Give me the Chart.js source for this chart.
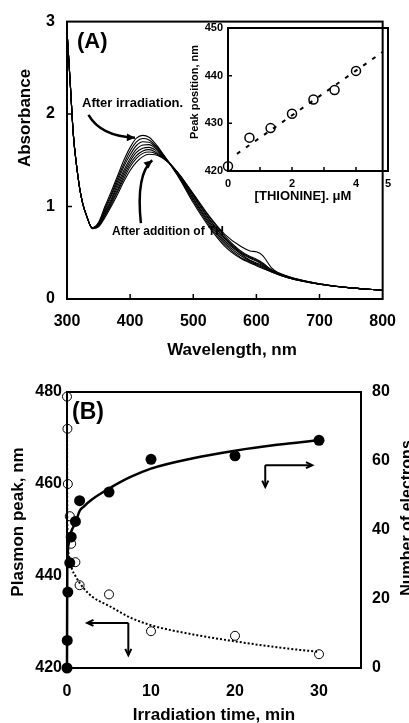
<!DOCTYPE html>
<html>
<head>
<meta charset="utf-8">
<script src="https://cdn.jsdelivr.net/npm/chart.js@4.4.1/dist/chart.umd.min.js"></script>
<style>
  body { margin: 0; background: #fff; }
  #wrap { position: relative; width: 409px; height: 723px; overflow: hidden; }
  canvas { position: absolute; }
</style>
</head>
<body>
<div id="wrap">
  <canvas id="specChart" width="409" height="365" style="left:0;top:0"></canvas>
  <canvas id="insetChart" width="229" height="195" style="left:180px;top:15px"></canvas>
  <canvas id="timeChart" width="409" height="358" style="left:0;top:365px"></canvas>
</div>
<script>
// ---- panel A: absorbance spectra ----
const wavelengths = [300,305,310,315,320,325,330,340,350,360,370,380,390,400,410,420,430,440,450,460,470,480,500,525,550,575,590,600,610,625,650,700,750,800];
const scan1 = [2.90,2.35,1.78,1.45,1.20,1.03,0.92,0.77,0.83,1.00,1.16,1.33,1.50,1.64,1.74,1.77,1.75,1.68,1.59,1.49,1.39,1.28,1.04,0.78,0.57,0.44,0.39,0.36,0.33,0.29,0.23,0.16,0.12,0.095];
const scan2 = [2.90,2.35,1.78,1.45,1.20,1.03,0.92,0.77,0.82,0.98,1.13,1.30,1.46,1.60,1.70,1.735,1.72,1.66,1.58,1.49,1.39,1.29,1.06,0.80,0.59,0.45,0.40,0.37,0.34,0.29,0.23,0.16,0.12,0.095];
const scan3 = [2.90,2.35,1.78,1.45,1.20,1.03,0.92,0.77,0.81,0.96,1.11,1.27,1.43,1.56,1.66,1.70,1.695,1.645,1.57,1.49,1.40,1.30,1.08,0.82,0.61,0.47,0.41,0.38,0.35,0.30,0.23,0.16,0.12,0.095];
const scan4 = [2.90,2.35,1.78,1.45,1.20,1.03,0.92,0.77,0.81,0.94,1.08,1.24,1.39,1.52,1.62,1.665,1.67,1.63,1.56,1.49,1.40,1.31,1.09,0.84,0.63,0.49,0.42,0.39,0.36,0.30,0.235,0.16,0.12,0.095];
const scan5 = [2.90,2.35,1.78,1.45,1.20,1.03,0.92,0.77,0.80,0.93,1.06,1.21,1.36,1.49,1.585,1.63,1.64,1.61,1.55,1.49,1.41,1.32,1.11,0.86,0.65,0.50,0.44,0.41,0.37,0.30,0.235,0.16,0.12,0.095];
const scan6 = [2.90,2.35,1.78,1.45,1.20,1.03,0.92,0.77,0.79,0.91,1.04,1.18,1.33,1.46,1.55,1.60,1.615,1.59,1.54,1.48,1.41,1.32,1.12,0.87,0.66,0.51,0.45,0.42,0.38,0.31,0.24,0.165,0.12,0.095];
const scan7 = [2.90,2.35,1.78,1.45,1.20,1.03,0.92,0.77,0.79,0.90,1.02,1.16,1.30,1.43,1.52,1.575,1.59,1.575,1.535,1.48,1.41,1.33,1.13,0.89,0.68,0.52,0.46,0.43,0.39,0.31,0.24,0.165,0.12,0.095];
const scan8 = [2.90,2.35,1.78,1.45,1.20,1.03,0.92,0.76,0.78,0.88,1.00,1.13,1.27,1.39,1.48,1.54,1.565,1.56,1.53,1.48,1.41,1.33,1.14,0.90,0.70,0.57,0.52,0.51,0.47,0.33,0.245,0.165,0.12,0.095];
const scans = [scan1, scan2, scan3, scan4, scan5, scan6, scan7, scan8];

// ---- inset: peak position vs thionine ----
const thionineConc = [0, 0.67, 1.33, 2, 2.67, 3.33, 4];
const peakPosition = [421, 427, 429, 432, 435, 437, 441];
const thionineFitX = [0.28, 4.84];
const thionineFitY = [423.6, 445];

// ---- panel B: irradiation time ----
const timeOpen = [0, 0.05, 0.1, 0.33, 0.5, 1, 1.5, 5, 10, 20, 30];
const plasmonPeak = [479, 472, 460, 453, 447, 443, 438, 436, 428, 427, 423];
const timeFilled = [0, 0.03, 0.1, 0.33, 0.5, 1, 1.5, 5, 10, 20, 30];
const electrons = [0, 8, 22, 30.5, 38, 42.5, 48.5, 51, 60.5, 61.5, 66];
const fitTimeP = [0, 0.03, 0.3, 0.6, 1, 1.5, 2, 3, 5, 7.5, 10, 15, 20, 25, 30];
const fitPlasmon = [480, 452, 444, 441.5, 440, 438.5, 437.3, 435.5, 433.5, 431, 429.3, 427.3, 425.8, 424.5, 423.5];
const fitTimeE = [0, 0.03, 0.2, 0.5, 1, 1.5, 2, 3, 5, 7.5, 10, 15, 20, 25, 30];
const fitElectrons = [0, 28, 36, 39.5, 42, 45.5, 46.8, 48.9, 52, 55.3, 57.8, 60.8, 63, 64.7, 66];

const FAM = '"Liberation Sans", Arial, sans-serif';
Chart.defaults.font.family = FAM;
Chart.defaults.color = '#000';

const pts = (xs, ys) => xs.map((x, i) => ({ x: x, y: ys[i] }));

function arrowHead(ctx, from, to, size, filled) {
  const ang = Math.atan2(to[1] - from[1], to[0] - from[0]);
  const p1 = [to[0] - size * Math.cos(ang - 0.45), to[1] - size * Math.sin(ang - 0.45)];
  const p2 = [to[0] - size * Math.cos(ang + 0.45), to[1] - size * Math.sin(ang + 0.45)];
  ctx.beginPath();
  ctx.moveTo(p1[0], p1[1]);
  ctx.lineTo(to[0], to[1]);
  ctx.lineTo(p2[0], p2[1]);
  if (filled) { ctx.closePath(); ctx.fill(); } else { ctx.stroke(); }
}

// frame, inward ticks, arrows and free text
const decorPlugin = {
  id: 'decor',
  afterDatasetsDraw(chart, args, opts) {
    const ctx = chart.ctx, a = chart.chartArea;
    ctx.save();
    ctx.strokeStyle = '#000';
    ctx.fillStyle = '#000';
    ctx.lineWidth = opts.frameWidth || 2;
    ctx.strokeRect(a.left, a.top, a.right - a.left, a.bottom - a.top);

    if (opts.tickLen) {
      const sx = chart.scales.x, sy = chart.scales.y;
      ctx.lineWidth = 1.5;
      ctx.beginPath();
      sx.ticks.forEach(t => {
        if (t.value <= sx.min || t.value >= sx.max) return;
        const px = sx.getPixelForValue(t.value);
        ctx.moveTo(px, a.bottom); ctx.lineTo(px, a.bottom - opts.tickLen);
      });
      sy.ticks.forEach(t => {
        if (t.value <= sy.min || t.value >= sy.max) return;
        const py = sy.getPixelForValue(t.value);
        ctx.moveTo(a.left, py); ctx.lineTo(a.left + opts.tickLen, py);
      });
      ctx.stroke();
    }

    (opts.arrows || []).forEach(ar => {
      const ys = chart.scales[ar.yAxis || 'y'];
      const P = p => [chart.scales.x.getPixelForValue(p[0]), ys.getPixelForValue(p[1])];
      ctx.lineWidth = ar.width || 2;
      if (ar.ctrl) {
        const s = P(ar.from), c = P(ar.ctrl), e = P(ar.to);
        ctx.beginPath();
        ctx.moveTo(s[0], s[1]);
        ctx.quadraticCurveTo(c[0], c[1], e[0], e[1]);
        ctx.stroke();
        arrowHead(ctx, c, e, 9, true);
      } else {
        const c = P(ar.corner);
        ar.ends.forEach(pt => {
          const e = P(pt);
          ctx.beginPath(); ctx.moveTo(c[0], c[1]); ctx.lineTo(e[0], e[1]); ctx.stroke();
          arrowHead(ctx, c, e, 7, false);
        });
      }
    });

    (opts.texts || []).forEach(t => {
      ctx.save();
      ctx.font = t.font;
      ctx.textAlign = t.align || 'center';
      ctx.textBaseline = t.baseline || 'middle';
      ctx.translate(t.x, t.y);
      if (t.rotate) ctx.rotate(-Math.PI / 2);
      ctx.fillText(t.text, 0, 0);
      ctx.restore();
    });
    ctx.restore();
  }
};

const noGrid = { display: false, drawTicks: false };
const noBorder = { display: false };
const bold = size => ({ size: size, weight: 'bold', family: FAM });

// panel A
new Chart(document.getElementById('specChart'), {
  type: 'line',
  data: {
    datasets: scans.map(s => ({
      data: pts(wavelengths, s),
      borderColor: '#000',
      borderWidth: 1.1,
      pointRadius: 0,
      cubicInterpolationMode: 'monotone'
    }))
  },
  options: {
    responsive: false,
    animation: false,
    layout: { padding: { top: 17, right: 17, left: 0, bottom: 0 } },
    plugins: {
      legend: { display: false },
      tooltip: { enabled: false },
      decor: {
        frameWidth: 2,
        tickLen: 5,
        arrows: [
          { from: [334, 1.99], ctrl: [354, 1.755], to: [407.7, 1.745], width: 2.5 },
          { from: [417, 0.82], ctrl: [409, 1.35], to: [435, 1.5], width: 2.5 }
        ],
        texts: [
          { text: '(A)', x: 77, y: 42, align: 'left', font: 'bold 22px ' + FAM },
          { text: 'Absorbance', x: 25, y: 118, rotate: true, font: 'bold 17px ' + FAM },
          { text: 'Wavelength, nm', x: 232, y: 350, font: 'bold 17px ' + FAM },
          { text: 'After irradiation.', x: 82, y: 103, align: 'left', font: 'bold 13px ' + FAM },
          { text: 'After addition of TH', x: 112, y: 232, align: 'left', font: 'bold 12px ' + FAM }
        ]
      }
    },
    scales: {
      x: {
        type: 'linear', min: 300, max: 800,
        ticks: { stepSize: 100, padding: 13, font: bold(16) },
        grid: noGrid, border: noBorder,
        afterFit: s => { s.height = 66; }
      },
      y: {
        min: 0, max: 3,
        ticks: { stepSize: 1, padding: 12, font: bold(16) },
        grid: noGrid, border: noBorder,
        afterFit: s => { s.width = 67; }
      }
    }
  },
  plugins: [decorPlugin]
});

// inset
new Chart(document.getElementById('insetChart'), {
  type: 'line',
  data: {
    datasets: [
      {
        data: pts(thionineConc, peakPosition),
        showLine: false,
        pointRadius: 4.5,
        pointBorderWidth: 1.5,
        pointBorderColor: '#000',
        pointBackgroundColor: 'rgba(0,0,0,0)',
        clip: false
      },
      {
        data: pts(thionineFitX, thionineFitY),
        borderColor: '#000',
        borderWidth: 2,
        borderDash: [4, 7],
        pointRadius: 0
      }
    ]
  },
  options: {
    responsive: false,
    animation: false,
    layout: { padding: { top: 13, right: 21, left: 0, bottom: 0 } },
    plugins: {
      legend: { display: false },
      tooltip: { enabled: false },
      decor: {
        frameWidth: 2,
        tickLen: 4,
        texts: [
          { text: 'Peak position, nm', x: 15, y: 77, rotate: true, font: 'bold 11px ' + FAM },
          { text: '[THIONINE]. \u03bcM', x: 123, y: 181, font: 'bold 13px ' + FAM }
        ]
      }
    },
    scales: {
      x: {
        type: 'linear', min: 0, max: 5,
        ticks: { stepSize: 1, padding: 6, font: bold(11), callback: v => (v === 1 || v === 3) ? '' : v },
        grid: noGrid, border: noBorder,
        afterFit: s => { s.height = 39; }
      },
      y: {
        min: 420, max: 450,
        ticks: { stepSize: 10, padding: 5, font: bold(11) },
        grid: noGrid, border: noBorder,
        afterFit: s => { s.width = 48; }
      }
    }
  },
  plugins: [decorPlugin]
});

// panel B
new Chart(document.getElementById('timeChart'), {
  type: 'line',
  data: {
    datasets: [
      {
        data: pts(timeOpen, plasmonPeak),
        yAxisID: 'yL',
        showLine: false,
        pointRadius: 4.5,
        pointBorderWidth: 1,
        pointBorderColor: '#000',
        pointBackgroundColor: 'rgba(0,0,0,0)',
        clip: false
      },
      {
        data: pts(timeFilled, electrons),
        yAxisID: 'yR',
        showLine: false,
        pointRadius: 5.5,
        pointBorderWidth: 0,
        pointBackgroundColor: '#000',
        clip: false
      },
      {
        data: pts(fitTimeP, fitPlasmon),
        yAxisID: 'yL',
        borderColor: '#000',
        borderWidth: 2,
        borderDash: [2, 2],
        pointRadius: 0,
        cubicInterpolationMode: 'monotone',
        clip: false
      },
      {
        data: pts(fitTimeE, fitElectrons),
        yAxisID: 'yR',
        borderColor: '#000',
        borderWidth: 2.5,
        pointRadius: 0,
        cubicInterpolationMode: 'monotone',
        clip: false
      }
    ]
  },
  options: {
    responsive: false,
    animation: false,
    layout: { padding: { top: 27, right: 0, left: 0, bottom: 0 } },
    plugins: {
      legend: { display: false },
      tooltip: { enabled: false },
      decor: {
        frameWidth: 2,
        tickLen: 0,
        arrows: [
          { corner: [23.6, 58.8], ends: [[29.2, 58.8], [23.6, 52.5]], yAxis: 'yR', width: 2 },
          { corner: [7.3, 429.8], ends: [[2.4, 429.8], [7.3, 422.8]], yAxis: 'yL', width: 2 }
        ],
        texts: [
          { text: '(B)', x: 72, y: 48, align: 'left', font: 'bold 23px ' + FAM },
          { text: 'Plasmon peak, nm', x: 18, y: 157, rotate: true, font: 'bold 17px ' + FAM },
          { text: 'Number of electrons', x: 411.5, y: 153, rotate: true, baseline: 'alphabetic', font: 'bold 16px ' + FAM },
          { text: 'Irradiation time, min', x: 214, y: 350, font: 'bold 17px ' + FAM }
        ]
      }
    },
    scales: {
      x: {
        type: 'linear', min: 0, max: 35,
        ticks: { stepSize: 10, padding: 14, font: bold(16) },
        grid: noGrid, border: noBorder,
        afterBuildTicks: s => { s.ticks = s.ticks.filter(t => t.value % 10 === 0); },
        afterFit: s => { s.height = 55; }
      },
      yL: {
        position: 'left', min: 420, max: 480,
        ticks: { stepSize: 20, padding: 5, font: bold(16) },
        grid: noGrid, border: noBorder,
        afterFit: s => { s.width = 67; }
      },
      yR: {
        position: 'right', min: 0, max: 80,
        ticks: { stepSize: 20, padding: 11, font: bold(16) },
        grid: noGrid, border: noBorder,
        afterFit: s => { s.width = 48; }
      }
    }
  },
  plugins: [decorPlugin]
});
</script>
</body>
</html>
